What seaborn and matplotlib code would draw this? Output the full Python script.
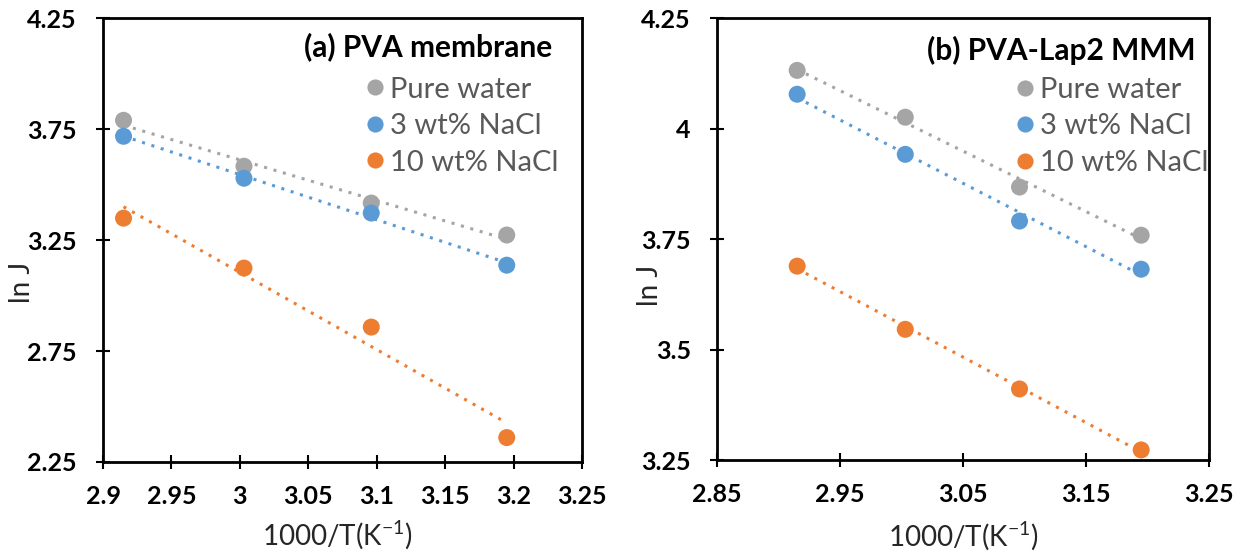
import numpy as np
import pandas as pd
import matplotlib
matplotlib.use("Agg")
import matplotlib.pyplot as plt
import seaborn as sns

# ---- data ----
inv_T = [2.915, 3.003, 3.096, 3.195]
series = ["Pure water", "3 wt% NaCl", "10 wt% NaCl"]

pva_pure = [3.79, 3.583, 3.417, 3.273]
pva_3 = [3.718, 3.529, 3.372, 3.137]
pva_10 = [3.349, 3.124, 2.858, 2.36]

lap_pure = [4.132, 4.026, 3.868, 3.759]
lap_3 = [4.078, 3.942, 3.791, 3.682]
lap_10 = [3.689, 3.546, 3.411, 3.273]

titles = ["(a) PVA membrane", "(b) PVA-Lap2 MMM"]
colors = ["#A5A5A5", "#5B9BD5", "#ED7D31"]

sns.set_theme(style="white")
plt.rcParams["font.family"] = ["Lato", "DejaVu Sans"]
plt.rcParams["mathtext.default"] = "regular"

def make_df(vals):
    rows = []
    for s, v in zip(series, vals):
        for x, y in zip(inv_T, v):
            rows.append({"x": x, "y": y, "series": s})
    return pd.DataFrame(rows)

fig = plt.figure(figsize=(12.41, 5.53), dpi=100)
ax1 = fig.add_axes([0.083, 0.1646, 0.386, 0.8024])
ax2 = fig.add_axes([0.578, 0.168, 0.396, 0.799])

panels = [
    (ax1, make_df([pva_pure, pva_3, pva_10]), (2.9, 3.25), np.arange(2.9, 3.2501, 0.05),
     ["2.9", "2.95", "3", "3.05", "3.1", "3.15", "3.2", "3.25"],
     (2.25, 4.25), [2.25, 2.75, 3.25, 3.75, 4.25], ["2.25", "2.75", "3.25", "3.75", "4.25"]),
    (ax2, make_df([lap_pure, lap_3, lap_10]), (2.85, 3.25), np.arange(2.85, 3.2501, 0.1),
     ["2.85", "2.95", "3.05", "3.15", "3.25"],
     (3.25, 4.25), [3.25, 3.5, 3.75, 4.0, 4.25], ["3.25", "3.5", "3.75", "4", "4.25"]),
]

# layout positions (axes fractions) per panel
ylabel_pos = [(-0.169, 0.405), (-0.136, 0.396)]
xlabel_pos = [(0.49, -0.164), (0.50, -0.170)]
title_pos = [(0.937, 0.935), (0.974, 0.928)]
legend_anchor = [(0.975, 0.895), (1.022, 0.894)]

for i, (ax, df, xlim, xt, xtl, ylim, yt, ytl) in enumerate(panels):
    for s, c in zip(series, colors):
        sub = df[df.series == s]
        sns.regplot(data=sub, x="x", y="y", ax=ax, scatter=False, ci=None,
                    color=c, line_kws={"linestyle": (0, (1, 2.2)), "linewidth": 2.2})
    sns.scatterplot(data=df, x="x", y="y", hue="series", palette=colors,
                    s=150, edgecolor="none", ax=ax, legend=True, zorder=3)
    ax.set_xlim(*xlim)
    ax.set_ylim(*ylim)
    ax.set_xticks(xt)
    ax.set_xticklabels(xtl, fontsize=18, fontweight="bold")
    ax.set_yticks(yt)
    ax.set_yticklabels(ytl, fontsize=18, fontweight="bold")
    ax.set_xlabel("1000/T(K$^{-1}$)", fontsize=20)
    ax.set_ylabel("ln J", fontsize=20)
    ax.xaxis.set_label_coords(*xlabel_pos[i])
    ax.yaxis.set_label_coords(*ylabel_pos[i])
    ax.xaxis.label.set_verticalalignment("center")
    ax.yaxis.label.set_verticalalignment("center")
    for sp in ax.spines.values():
        sp.set_color("black")
        sp.set_linewidth(2.0)
    ax.tick_params(axis="both", which="major", direction="inout", length=10, width=1.5,
                   color="black", labelcolor="black", bottom=True, left=True)
    ax.tick_params(axis="x", pad=11.5)
    ax.tick_params(axis="y", pad=14)
    ax.grid(False)
    ax.text(title_pos[i][0], title_pos[i][1], titles[i], transform=ax.transAxes,
            ha="right", va="center", fontsize=21.5, fontweight="bold", color="black")
    leg = ax.legend(loc="upper right", bbox_to_anchor=legend_anchor[i], frameon=False,
                    fontsize=21, labelcolor="#595959", handlelength=0.5,
                    handletextpad=0.25, labelspacing=0.36, borderaxespad=0.0,
                    markerscale=0.95)

fig.savefig("out.png", dpi=100)
